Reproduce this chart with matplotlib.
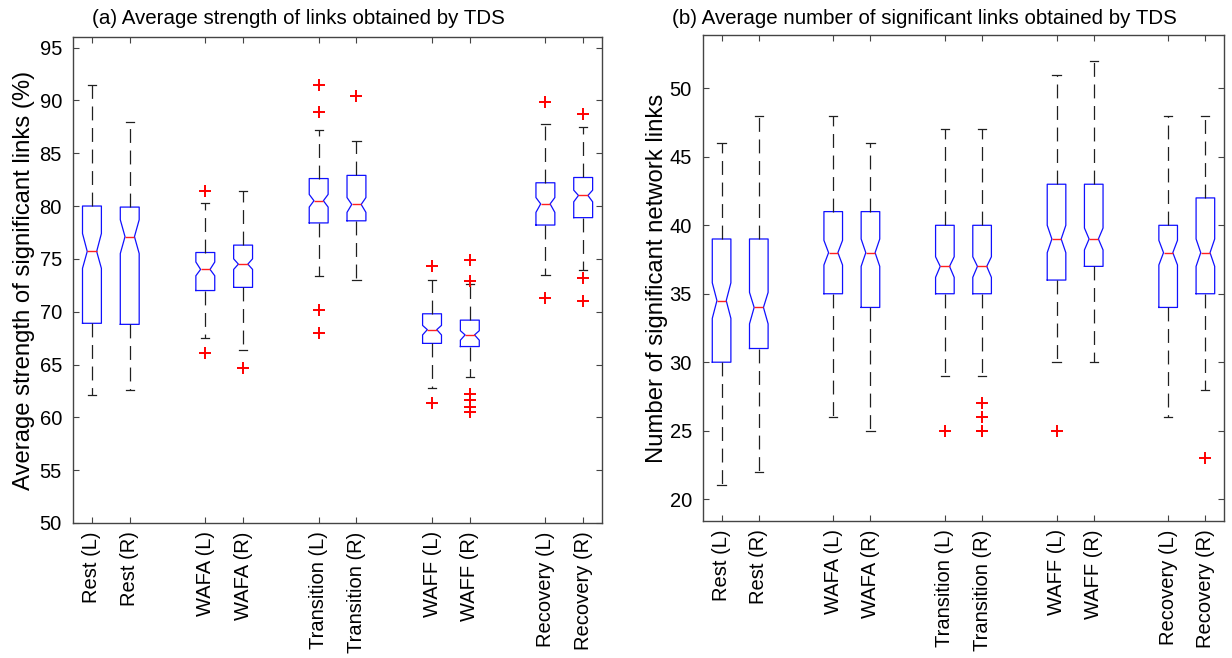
import matplotlib
matplotlib.use('Agg')
import matplotlib.pyplot as plt

plt.rcParams['font.family'] = ['Liberation Sans', 'DejaVu Sans']
plt.rcParams['lines.scale_dashes'] = False

labels = ['Rest (L)', 'Rest (R)', 'WAFA (L)', 'WAFA (R)', 'Transition (L)', 'Transition (R)',
          'WAFF (L)', 'WAFF (R)', 'Recovery (L)', 'Recovery (R)']
positions = [1, 2, 4, 5, 7, 8, 10, 11, 13, 14]

# (a) average strength of links (%)
a_whishi = [91.5, 88.0, 80.3, 81.4, 87.2, 86.2, 73.0, 72.65, 87.8, 87.5]
a_q3 = [80.0, 79.9, 75.6, 76.3, 82.6, 82.9, 69.8, 69.2, 82.2, 82.7]
a_cihi = [77.4, 78.7, 74.7, 75.0, 81.1, 80.8, 68.7, 68.2, 80.8, 81.5]
a_med = [75.7, 77.1, 74.0, 74.5, 80.5, 80.15, 68.3, 67.8, 80.2, 81.0]
a_cilo = [74.1, 75.5, 73.4, 74.0, 79.9, 79.4, 67.8, 67.3, 79.4, 80.4]
a_q1 = [68.9, 68.8, 72.0, 72.3, 78.4, 78.6, 67.0, 66.7, 78.2, 78.9]
a_whislo = [62.1, 62.6, 67.55, 66.35, 73.4, 73.0, 62.8, 63.8, 73.5, 73.9]
a_fliers = [[], [], [81.4, 66.1], [64.7], [91.5, 88.9, 70.2, 68.0], [90.4],
            [74.3, 61.4], [74.9, 72.9, 62.2, 61.6, 61.0, 60.5], [89.85, 71.3], [88.7, 73.2, 71.0]]

# (b) number of significant network links
b_whishi = [46, 48, 48, 46, 47, 47, 51, 52, 48, 48]
b_q3 = [39, 39, 41, 41, 40, 40, 43, 43, 40, 42]
b_cihi = [35.8, 35.1, 38.9, 39.0, 37.7, 37.7, 40.0, 39.8, 38.9, 39.0]
b_med = [34.5, 34.0, 38, 38, 37, 37, 39, 39, 38, 38]
b_cilo = [33.2, 32.8, 37.1, 37.0, 36.2, 36.2, 38.0, 38.2, 37.1, 37.0]
b_q1 = [30, 31, 35, 34, 35, 35, 36, 37, 34, 35]
b_whislo = [21, 22, 26, 25, 29, 29, 30, 30, 26, 28]
b_fliers = [[], [], [], [], [25], [27, 26, 25, 25], [25], [], [], [23]]


def make_stats(whishi, q3, cihi, med, cilo, q1, whislo, fliers):
    stats = []
    for i in range(len(med)):
        stats.append(dict(med=med[i], q1=q1[i], q3=q3[i], whislo=whislo[i], whishi=whishi[i],
                          cilo=cilo[i], cihi=cihi[i], fliers=fliers[i]))
    return stats


def draw(ax, stats, ylim, yticks, ylabel):
    ax.bxp(stats, positions=positions, widths=0.5, capwidths=0.22, shownotches=True,
           boxprops=dict(color='#1010ff', linewidth=0.9),
           medianprops=dict(color='#ff2020', linewidth=1.0),
           whiskerprops=dict(color='#202020', linewidth=0.9, linestyle=(0, (10, 5.5))),
           capprops=dict(color='#202020', linewidth=0.9),
           flierprops=dict(marker='+', markeredgecolor='red', markersize=9, markeredgewidth=1.4,
                           linestyle='none'))
    ax.set_xlim(0.5, 14.5)
    ax.set_ylim(*ylim)
    ax.set_yticks(yticks)
    ax.set_xticks(positions)
    ax.set_xticklabels(labels, rotation=90, fontsize=14.5)
    ax.tick_params(axis='y', labelsize=14.5, pad=8)
    ax.tick_params(axis='x', pad=6)
    ax.tick_params(direction='in', length=4, width=0.8, color='#444444', top=True, right=True)
    for s in ax.spines.values():
        s.set_color('#444444')
        s.set_linewidth(1.0)
    ax.set_ylabel(ylabel, fontsize=17.2)


fig = plt.figure(figsize=(12.32, 6.58), dpi=100)
ax1 = fig.add_axes([0.0593, 0.2052, 0.4294, 0.7386])
ax2 = fig.add_axes([0.5706, 0.2082, 0.4229, 0.7386])

draw(ax1, make_stats(a_whishi, a_q3, a_cihi, a_med, a_cilo, a_q1, a_whislo, a_fliers),
     (50, 96), range(50, 96, 5), 'Average strength of significant links (%)')
draw(ax2, make_stats(b_whishi, b_q3, b_cihi, b_med, b_cilo, b_q1, b_whislo, b_fliers),
     (18.4, 53.9), range(20, 51, 5), 'Number of significant network links')

ax1.yaxis.set_label_coords(-0.072, 0.5)
ax2.yaxis.set_label_coords(-0.068, 0.5)

fig.text(298 / 1232, 1 - 18 / 658, '(a) Average strength of links obtained by TDS',
         ha='center', va='center', fontsize=14.8)
fig.text(924 / 1232, 1 - 18 / 658, '(b) Average number of significant links obtained by TDS',
         ha='center', va='center', fontsize=14.8)

fig.savefig('out.png', dpi=100)
